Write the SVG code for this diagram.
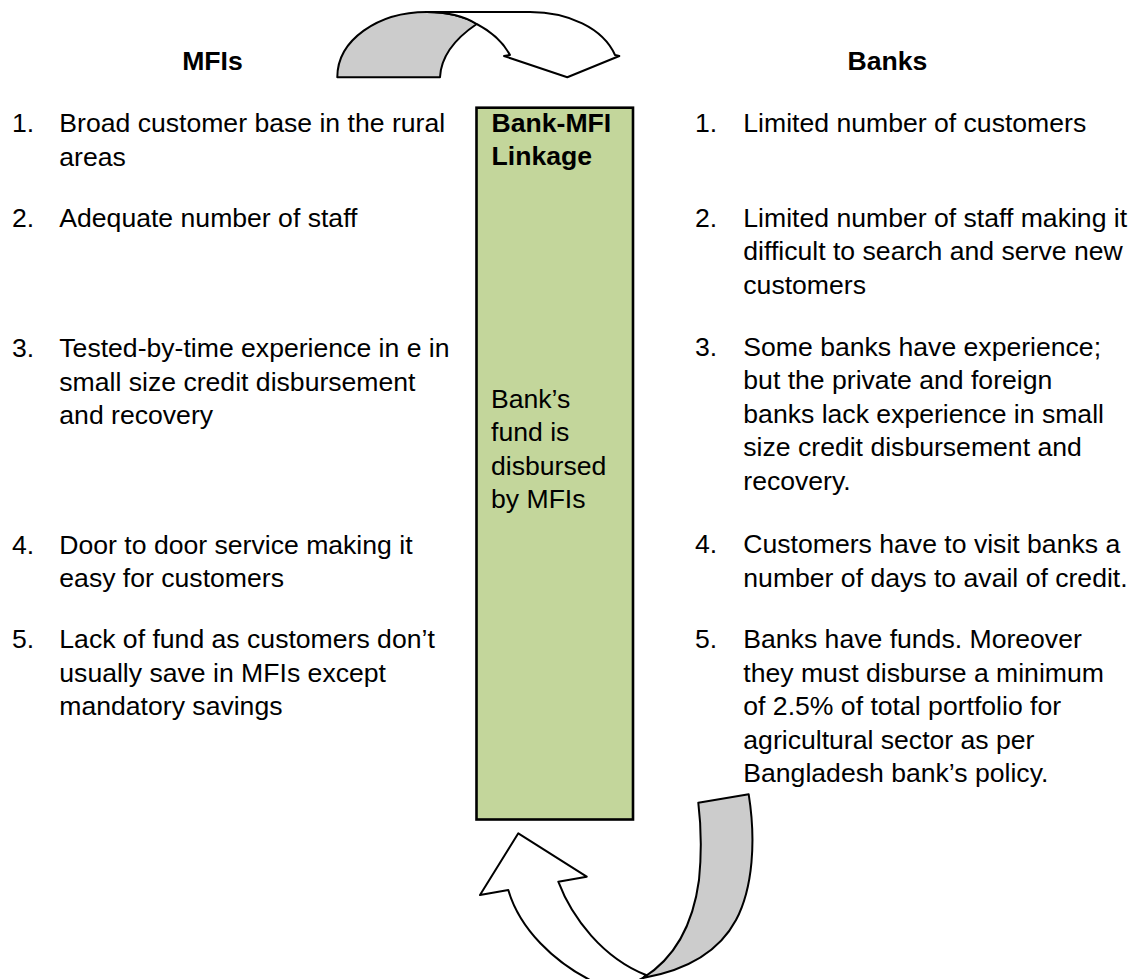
<svg xmlns="http://www.w3.org/2000/svg" width="1135" height="979" viewBox="0 0 1135 979">
<style>
text{font-family:"Liberation Sans",Arial,sans-serif;font-size:26.6px;fill:#000}
.b{font-weight:bold}
.ln{stroke:#000;stroke-width:2;stroke-linejoin:round}
.back{fill:#cccccc}
.front{fill:#ffffff}
.box{fill:#c3d69b;stroke:#000;stroke-width:2.6}
</style>
<rect width="1135" height="979" fill="#ffffff"/>

<g id="connectors">
  <g id="arrow-top">
    <path class="ln back" d="M337.3,77.3 C337.3,40 378,12 426.7,12 C446,12 464,16 476.7,24 C456,38 441,56 440,77.3 Z"/>
    <path class="ln front" d="M426.7,12 L530,12 C568,12 603,28 615,55 L619.3,56 L567.3,77.3 L504,56 L510,55 C503,42 492,32 476.7,24 C464,16 446,12 426.7,12 Z"/>
  </g>
  <g id="arrow-bottom">
    <path class="ln front" d="M508.3,890 L480,895 L518.3,833.3 L586.7,876.7 L558.3,881.7 C572,918 603,958 646,975 L643,978 C620,990 600,988 590,980 C555,962 520,930 508.3,890 Z"/>
    <path class="ln back" d="M698.3,802.7 L748.7,794.3 C756,840 753,888 736,920 C720,950 688,970 643,978 C675,958 693,925 699,880 C702,850 701,825 698.3,802.7 Z"/>
  </g>
</g>

<g id="linkage">
  <rect class="box" x="476.5" y="107.7" width="156.5" height="711.8"/>
  <text class="b" x="491.5" y="132.3">Bank-MFI</text>
  <text class="b" x="491.5" y="164.5">Linkage</text>
  <text x="491" y="407.5">Bank’s</text>
  <text x="491" y="441">fund is</text>
  <text x="491" y="474.5">disbursed</text>
  <text x="491" y="508">by MFIs</text>
</g>

<g id="mfis">
  <text class="b" x="212.5" y="70" text-anchor="middle">MFIs</text>
  <text x="12" y="131.7">1.</text>
  <text x="59.3" y="131.7">Broad customer base in the rural</text>
  <text x="59.3" y="165.5">areas</text>
  <text x="12" y="226.7">2.</text>
  <text x="59.3" y="226.7">Adequate number of staff</text>
  <text x="12" y="357.3">3.</text>
  <text x="59.3" y="357.3">Tested-by-time experience in e in</text>
  <text x="59.3" y="390.7">small size credit disbursement</text>
  <text x="59.3" y="424.1">and recovery</text>
  <text x="12" y="554">4.</text>
  <text x="59.3" y="554">Door to door service making it</text>
  <text x="59.3" y="587.4">easy for customers</text>
  <text x="12" y="648.4">5.</text>
  <text x="59.3" y="648.4">Lack of fund as customers don’t</text>
  <text x="59.3" y="681.8">usually save in MFIs except</text>
  <text x="59.3" y="715.2">mandatory savings</text>
</g>

<g id="banks">
  <text class="b" x="887.5" y="70" text-anchor="middle">Banks</text>
  <text x="695" y="131.7">1.</text>
  <text x="743.3" y="131.7">Limited number of customers</text>
  <text x="695" y="226.7">2.</text>
  <text x="743.3" y="226.7">Limited number of staff making it</text>
  <text x="743.3" y="260.1">difficult to search and serve new</text>
  <text x="743.3" y="293.5">customers</text>
  <text x="695" y="356">3.</text>
  <text x="743.3" y="356">Some banks have experience;</text>
  <text x="743.3" y="389.4">but the private and foreign</text>
  <text x="743.3" y="422.8">banks lack experience in small</text>
  <text x="743.3" y="456.2">size credit disbursement and</text>
  <text x="743.3" y="489.6">recovery.</text>
  <text x="695" y="553.3">4.</text>
  <text x="743.3" y="553.3">Customers have to visit banks a</text>
  <text x="743.3" y="586.7">number of days to avail of credit.</text>
  <text x="695" y="648.3">5.</text>
  <text x="743.3" y="648.3">Banks have funds. Moreover</text>
  <text x="743.3" y="681.7">they must disburse a minimum</text>
  <text x="743.3" y="715.1">of 2.5% of total portfolio for</text>
  <text x="743.3" y="748.5">agricultural sector as per</text>
  <text x="743.3" y="781.9">Bangladesh bank’s policy.</text>
</g>
</svg>
